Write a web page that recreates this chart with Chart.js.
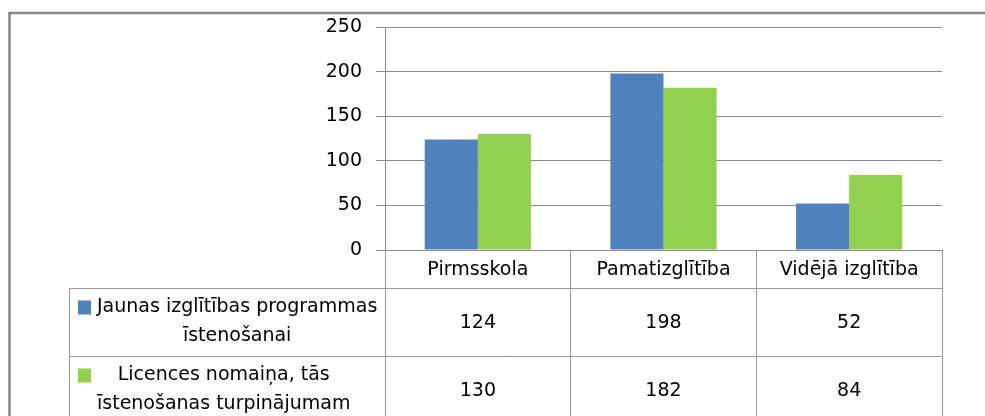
<!DOCTYPE html>
<html>
<head>
<meta charset="utf-8">
<script src="https://cdn.jsdelivr.net/npm/chart.js@4.4.0/dist/chart.umd.min.js"></script>
<style>
html,body{margin:0;padding:0;background:#fff}
canvas{display:block}
</style>
</head>
<body>
<canvas id="chart" width="985" height="416"></canvas>
<script>
// data
const categories=["Pirmsskola","Pamatizglītība","Vidējā izglītība"]
const seriesLabels=[
["Jaunas izglītības programmas","īstenošanai"],
["Licences nomaiņa, tās","īstenošanas turpinājumam"]
]
const newPrograms=[124,198,52]
const licenceChange=[130,182,84]
const yMin=0
const yMax=250
const yStep=50

const FONT='"DejaVu Sans", sans-serif'
const GRID='#8c8c8c'
const TABLE='#9a9a9a'

function line(ctx,x1,y1,x2,y2){
ctx.beginPath()
ctx.moveTo(x1,y1)
ctx.lineTo(x2,y2)
ctx.stroke()
}

// chart frame + data table under the x axis
const tablePlugin={
id:"tablePlugin",
beforeDraw(chart){
const ctx=chart.ctx
ctx.save()
ctx.strokeStyle="#878787"
ctx.lineWidth=2.5
ctx.beginPath()
ctx.moveTo(9.5,416)
ctx.lineTo(9.5,13)
ctx.lineTo(985,13)
ctx.stroke()
ctx.restore()
},
afterDraw(chart){
const ctx=chart.ctx
const x=chart.scales.x
const rowTops=[288,356]
const rowH=68
const keyLeft=78
const textLeft=97

ctx.save()
ctx.strokeStyle=TABLE
ctx.lineWidth=1
rowTops.forEach(y=>line(ctx,69,y+0.5,x.right,y+0.5))
line(ctx,69.5,rowTops[0],69.5,416)

ctx.font="19px "+FONT
ctx.fillStyle="#000"
ctx.textBaseline="middle"

chart.data.datasets.forEach((ds,i)=>{
const mid=rowTops[i]+rowH/2
const lines=seriesLabels[i]
const l1=mid-14.5

// legend key
ctx.fillStyle=ds.backgroundColor
ctx.fillRect(keyLeft,l1-7,13,14)

// label lines centred in a block starting after the key
ctx.fillStyle="#000"
ctx.textAlign="center"
const blockW=Math.max(...lines.map(t=>ctx.measureText(t).width))
const cx=textLeft+blockW/2
lines.forEach((t,k)=>ctx.fillText(t,cx,l1+k*29))

// values
ds.data.forEach((v,j)=>{
ctx.fillText(String(v),x.getPixelForValue(j),mid+1)
})
})
ctx.restore()
}
}

new Chart(document.getElementById("chart"),{
type:"bar",
data:{
labels:categories,
datasets:[
{label:seriesLabels[0].join(" "),data:newPrograms,backgroundColor:"#4F81BD",barPercentage:1,categoryPercentage:0.572},
{label:seriesLabels[1].join(" "),data:licenceChange,backgroundColor:"#92D050",barPercentage:1,categoryPercentage:0.572}
]
},
options:{
responsive:false,
devicePixelRatio:1,
animation:false,
layout:{padding:{top:27,right:43,left:0,bottom:0}},
plugins:{legend:{display:false},tooltip:{enabled:false}},
scales:{
x:{
afterFit(s){s.height=166},
grid:{offset:true,drawOnChartArea:false,tickLength:166,color:TABLE},
border:{display:true,color:GRID},
ticks:{padding:-157,color:"#000",font:{family:FONT,size:19}}
},
y:{
min:yMin,
max:yMax,
afterFit(s){s.width=385},
grid:{color:GRID,tickLength:9},
border:{display:true,color:GRID},
ticks:{stepSize:yStep,padding:14,color:"#000",font:{family:FONT,size:19}}
}
}
},
plugins:[tablePlugin]
})
</script>
</body>
</html>
